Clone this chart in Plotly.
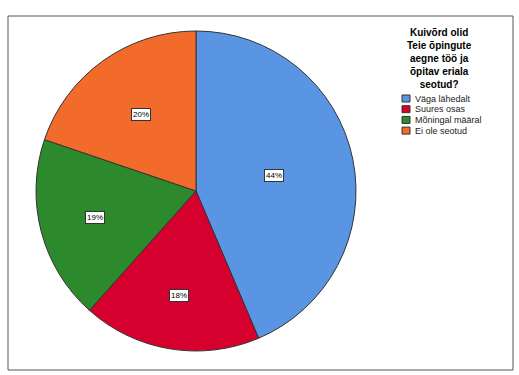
import math
import plotly.graph_objects as go

categories = ["Väga lähedalt", "Suures osas", "Mõningal määral", "Ei ole seotud"]
shares = [43.6, 18.0, 18.6, 19.8]
legend_title_lines = ["Kuivõrd olid", "Teie õpingute", "aegne töö ja", "õpitav eriala", "seotud?"]

colors = ["#5A95E3", "#D6002E", "#2C8A2C", "#F26B2B"]
label_radius = [0.5, 0.66, 0.65, 0.59]
FONT = "Liberation Sans, Arial"

W, H = 519, 375
ml, mr, mt, mb = 8, 6, 16, 5
pw, ph = W - ml - mr, H - mt - mb


def px(x):
    return (x - ml) / pw


def py(y):
    return (H - mb - y) / ph


# pie box in pixels: centre (196,191), radius 160
dx0, dx1 = px(36), px(356)
dy0, dy1 = py(351), py(31)

fig = go.Figure(go.Pie(
    labels=categories, values=shares, sort=False, direction="clockwise",
    rotation=0, marker=dict(colors=colors, line=dict(color="#333333", width=1)),
    textinfo="none", hoverinfo="label+percent", showlegend=False,
    domain=dict(x=[dx0, dx1], y=[dy0, dy1]),
))

# percentage labels in boxes, positioned from the data
total = sum(shares)
R = min((dx1 - dx0) * pw, (dy1 - dy0) * ph) / 2
cx = (dx0 + dx1) / 2
cy = (dy0 + dy1) / 2
cum = 0.0
for v, f in zip(shares, label_radius):
    mid = (cum + v / 2) / total * 2 * math.pi
    cum += v
    fig.add_annotation(
        x=cx + f * R * math.sin(mid) / pw, y=cy + f * R * math.cos(mid) / ph,
        xref="paper", yref="paper", showarrow=False,
        xanchor="center", yanchor="middle",
        text=f"{round(v / total * 100)}%",
        font=dict(size=8, color="black", family=FONT),
        bgcolor="white", bordercolor="#333333", borderwidth=1, borderpad=1,
    )

# legend title
fig.add_annotation(
    x=px(439), y=py(58), xref="paper", yref="paper",
    showarrow=False, xanchor="center", yanchor="middle", align="center",
    text="<b>" + "<br>".join(legend_title_lines) + "</b>",
    font=dict(size=10, color="black", family=FONT),
)

# legend entries
for i, (cat, col) in enumerate(zip(categories, colors)):
    yc = 98.5 + i * 10.7
    fig.add_shape(type="rect", xref="paper", yref="paper",
                  x0=px(402), x1=px(410), y0=py(yc + 3.5), y1=py(yc - 3.5),
                  fillcolor=col, line=dict(color="#333333", width=1))
    fig.add_annotation(
        x=px(412.5), y=py(yc), xref="paper", yref="paper", showarrow=False,
        xanchor="left", yanchor="middle", text=cat,
        font=dict(size=9, color="#222222", family=FONT),
    )

fig.add_shape(type="rect", xref="paper", yref="paper", x0=0, x1=1, y0=0, y1=1,
              line=dict(color="#555555", width=1))

fig.update_layout(
    width=W, height=H, margin=dict(l=ml, r=mr, t=mt, b=mb),
    paper_bgcolor="white", plot_bgcolor="white",
    font=dict(family=FONT, color="black"),
    showlegend=False,
)

fig.write_html("out.html", config={"displayModeBar": False},
               post_script="document.body.style.margin='0px';")
